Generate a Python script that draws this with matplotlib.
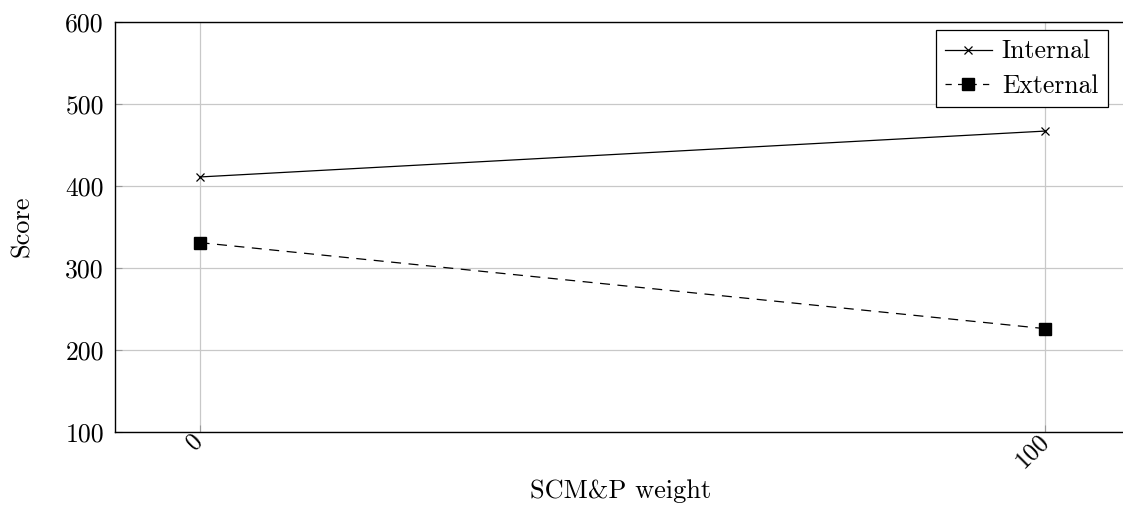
import matplotlib.pyplot as plt
from matplotlib.lines import Line2D

# Data
weights = [0, 100]
internal = [411, 467]
external = [331, 226]
y_ticks = [100, 200, 300, 400, 500, 600]

plt.rcParams['font.family'] = 'cmr10'
plt.rcParams['mathtext.fontset'] = 'cm'
plt.rcParams['axes.formatter.use_mathtext'] = True

fig = plt.figure(figsize=(11.23, 5.08), dpi=100)
W, H = 1123, 508
ax = fig.add_axes([115 / W, (H - 432) / H, 1015 / W, 410 / H])

ax.plot(weights, internal, color='black', linewidth=0.9,
        marker='x', markersize=6, markeredgewidth=0.9, label='Internal')
ax.plot(weights, external, color='black', linewidth=0.9, linestyle=(0, (8, 6)),
        marker='s', markersize=9, label='External')

ax.set_xlim(-10, 110)
ax.set_ylim(100, 600)
ax.set_xticks(weights)
ax.set_yticks(y_ticks)
ax.set_xticklabels([str(w) for w in weights], rotation=45, ha='right',
                   va='center', rotation_mode='anchor', fontsize=18)
ax.set_yticklabels([str(t) for t in y_ticks], fontsize=18.5)
ax.tick_params(axis='both', direction='in', length=5, width=0.8, color='#999999')
ax.tick_params(axis='x', pad=4)
ax.tick_params(axis='y', pad=8)

ax.grid(True, color='#c8c8c8', linewidth=0.9)
ax.set_axisbelow(True)
for s in ax.spines.values():
    s.set_linewidth(1.0)
    s.set_color('black')

ax.set_xlabel('SCM&P weight', fontsize=19)
ax.xaxis.set_label_coords(621 / W, 1 - 479 / H, transform=fig.transFigure)
ax.set_ylabel('Score', fontsize=19)
ax.yaxis.set_label_coords(34 / W, 1 - 226 / H, transform=fig.transFigure)

handles = [
    Line2D([], [], color='black', linewidth=0.9, marker='x', markersize=6, markeredgewidth=0.9),
    Line2D([], [], color='black', linewidth=0.9, linestyle=(0, (5, 5)), marker='s', markersize=8),
]
leg = ax.legend(handles, ['Internal', 'External'], loc='upper right',
                bbox_to_anchor=(1108 / W, 1 - 30 / H), bbox_transform=fig.transFigure,
                fontsize=18.5, fancybox=False, framealpha=1, edgecolor='black',
                handlelength=1.8, handletextpad=0.4, borderpad=0.38, labelspacing=0.4,
                borderaxespad=0)
leg.get_frame().set_linewidth(0.9)

fig.savefig('out.png', dpi=100)
